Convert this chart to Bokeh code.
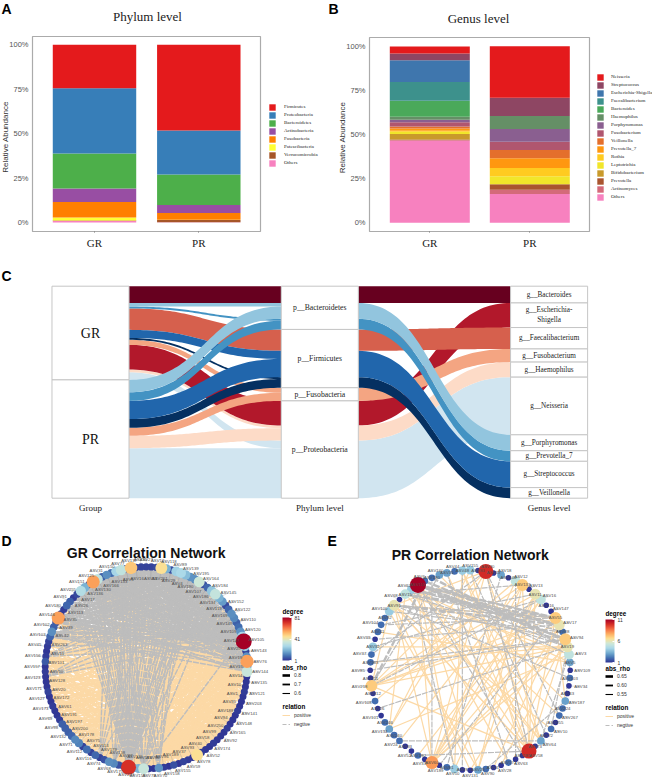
import numpy as np
from bokeh.embed import file_html
from bokeh.resources import INLINE
from bokeh.plotting import figure
from bokeh.layouts import column, row
from bokeh.core.properties import value
from bokeh.models import (ColumnDataSource, FixedTicker, NumeralTickFormatter, Label, Legend,
                          LegendItem, LinearColorMapper, ColorBar)
from bokeh.transform import transform

groups = ["GR", "PR"]
phylum_names = ["Firmicutes", "Proteobacteria", "Bacteroidetes", "Actinobacteria", "Fusobacteria",
                "Patescibacteria", "Verrucomicrobia", "Others"]
phylum_gr = [24.4, 36.8, 19.7, 7.5, 8.8, 1.7, 0.2, 0.9]
phylum_pr = [48.2, 24.8, 17.1, 4.6, 3.8, 0.05, 1.3, 0.15]
phylum_colors = ["#e41a1c", "#377eb8", "#4daf4a", "#984ea3", "#ff7f00", "#ffff33", "#a65628", "#f781bf"]

genus_names = ["Neisseria", "Streptococcus", "Escherichia-Shigella", "Faecalibacterium", "Bacteroides",
               "Haemophilus", "Porphyromonas", "Fusobacterium", "Veillonella", "Prevotella_7", "Rothia",
               "Leptotrichia", "Bifidobacterium", "Prevotella", "Actinomyces", "Others"]
genus_gr = [4.0, 3.8, 12.4, 10.6, 9.1, 1.7, 1.3, 2.5, 1.1, 1.3, 0.6, 1.3, 3.0, 0.4, 0.4, 46.5]
genus_pr = [29.1, 10.4, 0.0, 0.0, 0.0, 7.4, 7.2, 4.7, 4.7, 5.5, 4.7, 4.5, 0.1, 3.0, 2.5, 16.3]
genus_colors = ["#e41a1c", "#8e4663", "#3f76ad", "#3d918c", "#4aa95a", "#658f66", "#8a5f90", "#b0566f",
                "#e46f2c", "#ff9710", "#ffcb20", "#f1e62a", "#c99a2b", "#a9552f", "#d46a7a", "#f781bf"]

flow_genus = ["Bacteroides", "Porphyromonas", "Prevotella_7", "Faecalibacterium", "Streptococcus",
              "Veillonella", "Fusobacterium", "Escherichia-\nShigella", "Haemophilus", "Neisseria"]
flow_phylum = ["Bacteroidetes", "Bacteroidetes", "Bacteroidetes", "Firmicutes", "Firmicutes", "Firmicutes",
               "Fusobacteria", "Proteobacteria", "Proteobacteria", "Proteobacteria"]
flow_gr = [7.9, 1.7, 0.9, 10.1, 3.8, 0.9, 2.4, 11.6, 1.3, 3.6]
flow_pr = [0.0, 5.8, 4.1, 0.0, 8.6, 4.1, 3.8, 0.0, 5.8, 23.6]
flow_colors = ["#67001f", "#92c5de", "#4393c3", "#d6604d", "#2166ac", "#053061", "#f4a582", "#b2182b",
               "#fddbc7", "#d1e5f0"]
genus_axis_order = ["Bacteroides", "Escherichia-\nShigella", "Faecalibacterium", "Fusobacterium", "Haemophilus",
                    "Neisseria", "Porphyromonas", "Prevotella_7", "Streptococcus", "Veillonella"]
left_draw_order = ["Neisseria", "Haemophilus", "Escherichia-\nShigella", "Fusobacterium", "Faecalibacterium",
                   "Veillonella", "Streptococcus", "Prevotella_7", "Porphyromonas", "Bacteroides"]
right_draw_order = ["Neisseria", "Escherichia-\nShigella", "Haemophilus", "Fusobacterium", "Faecalibacterium",
                    "Veillonella", "Streptococcus", "Prevotella_7", "Porphyromonas", "Bacteroides"]

gr_degree = [3, 3, 4, 45, 20, 5, 26, 28, 22, 15, 14, 36, 5, 8, 24, 34, 20, 16, 4, 8, 14, 13, 7, 9, 15, 27, 81, 25, 3,
             14, 56, 15, 35, 1, 1, 1, 2, 1, 1, 1, 2, 1, 1, 1, 2, 1, 1, 1, 2, 1, 1, 2, 45, 1, 2, 3, 1, 5, 1, 2, 15, 1,
             1, 35, 20, 16, 72, 4, 5, 13, 14, 5, 3, 8, 3, 9, 3, 12, 13, 8, 7, 7, 7, 2, 1, 1, 2, 1, 1, 3, 1, 1, 1, 2, 1,
             6, 2, 1, 2, 3, 8, 14, 7, 4, 56, 2, 2, 8, 7, 2, 4, 30, 20, 5, 56, 33, 7, 14, 9, 27, 33, 5, 50, 3, 3]
gr_labels = ["ASV27", "ASV51", "ASV12", "ASV261", "ASV118", "ASV29", "ASV89", "ASV4", "ASV139", "ASV190", "ASV195",
             "ASV107", "ASV164", "ASV186", "ASV184", "ASV134", "ASV145", "ASV119", "ASV152", "ASV169", "ASV122",
             "ASV149", "ASV110", "ASV109", "ASV120", "ASV147", "ASV105", "ASV25", "ASV143", "ASV19", "ASV76", "ASV15",
             "ASV144", "ASV14", "ASV135", "ASV10", "ASV121", "ASV1", "ASV203", "ASV95", "ASV141", "ASV188", "ASV148",
             "ASV94", "ASV165", "ASV250", "ASV92", "ASV99", "ASV174", "ASV58", "ASV52", "ASV40", "ASV78", "ASV93",
             "ASV59", "ASV37", "ASV155", "ASV189", "ASV158", "ASV96", "ASV70", "ASV36", "ASV79", "ASV176", "ASV159",
             "ASV115", "ASV223", "ASV97", "ASV175", "ASV138", "ASV68", "ASV179", "ASV74", "ASV114", "ASV116",
             "ASV75", "ASV112", "ASV178", "ASV71", "ASV200", "ASV132", "ASV197", "ASV98", "ASV191", "ASV69", "ASV61",
             "ASV173", "ASV172", "ASV127", "ASV20", "ASV171", "ASV128", "ASV123", "ASV50", "ASV157", "ASV101",
             "ASV156", "ASV11", "ASV45", "ASV263", "ASV103", "ASV42", "ASV102", "ASV39", "ASV146", "ASV35", "ASV180",
             "ASV113", "ASV91", "ASV26", "ASV255", "ASV17", "ASV151", "ASV136", "ASV125", "ASV130", "ASV31", "ASV166",
             "ASV150", "ASV133", "ASV77", "ASV5", "ASV137", "ASV16", "ASV30"]
gr_pos = [
    (26, [58, 60, 62, 64, 67, 68, 70, 71, 72, 74, 75, 77, 78, 79, 81, 82, 83, 84, 85, 86, 87, 88, 89, 90, 91, 92, 93,
          94, 95, 96, 97, 98, 99, 100, 101, 103]),
    (30, [55, 57, 59, 61, 65, 67, 69, 71, 73, 76, 78, 80, 83, 85, 87, 89, 91, 93, 95, 97, 99, 102]),
    (66, [33, 34, 35, 36, 37, 38, 39, 40, 41, 42, 43, 44, 45, 46, 47, 48, 49, 50, 51, 30, 32, 27, 25, 24, 21, 84, 87,
          90, 93, 96, 99]),
    (52, [70, 73, 76, 79, 82, 85, 88, 91, 94, 97, 100, 103, 106]),
    (104, [33, 35, 37, 39, 41, 43, 45, 47, 49, 51, 53, 55, 57, 60, 63]),
    (114, [34, 36, 38, 40, 42, 44, 46, 48, 50, 54, 57, 60, 63, 65]),
    (122, [52, 55, 58, 61, 64, 68, 71, 74, 77, 80, 38, 42, 46]),
    (63, [33, 36, 39, 42, 45, 48, 85, 88, 92, 96, 100]),
    (32, [62, 65, 68, 73, 77, 81, 86, 90, 94, 98, 102, 107]),
    (7, [52, 56, 60, 63, 66, 70, 74, 79, 84, 89, 94]),
    (15, [53, 59, 63, 66, 71, 76, 82, 88, 92]),
    (120, [40, 45, 50, 55, 60, 65, 68, 72]),
    (33, [62, 66, 70, 74, 78, 82, 86, 90, 94, 98]),
    (36, [64, 68, 72, 76, 80, 84, 88, 92, 96, 100]),
    (39, [61, 65, 69, 73, 77, 81, 85, 89, 93, 97, 101]),
    (42, [63, 67, 71, 75, 79, 83, 87, 91, 95, 99]),
    (45, [62, 66, 70, 74, 78, 82, 86, 90, 94]),
    (48, [64, 68, 72, 76, 80, 84, 88, 92]),
    (50, [65, 69, 73, 77, 81, 85, 89, 93]),
    (28, [52, 56, 62, 69, 75, 80, 88, 94, 100]),
    (23, [50, 58, 64, 70, 76, 84, 90, 96]),
    (20, [47, 55, 60, 67, 73, 79, 85, 91, 99]),
    (18, [44, 53, 62, 72, 78, 83, 89, 95]),
    (100, [35, 40, 46, 52, 58, 64]),
    (96, [34, 38, 44, 49, 54, 60, 66]),
    (92, [37, 41, 47, 51, 56, 61]),
    (88, [35, 39, 43, 50, 55, 62]),
    (84, [37, 41, 46, 52, 58]),
]
gr_neg = [
    (26, [0, 1, 2, 3, 4, 5, 6, 7, 8, 9, 10, 105, 106, 107, 108, 109, 110, 111, 112, 113, 114, 115, 116, 117, 118, 119,
          120, 121, 122, 123, 124, 100, 101, 102, 103, 104, 98]),
    (66, [118, 119, 120, 121, 122, 123, 124, 0, 1, 2, 3, 4, 5, 6, 7, 8, 9, 10, 11, 12, 114, 116, 109, 111, 113, 115,
          117, 110, 112]),
    (30, [112, 114, 116, 118, 120, 122, 124, 1, 3, 5, 7, 100, 104, 108]),
    (114, [7, 11, 15, 19, 22, 25, 27, 29, 31, 32, 63]),
    (122, [11, 15, 25, 30, 63, 66, 69, 60]),
    (11, [63, 66, 69, 72, 104, 108, 111, 114, 100]),
    (104, [6, 7, 14, 20, 25, 27, 30, 32]),
    (15, [111, 104, 100, 66, 63]),
    (7, [100, 104, 108, 111, 115, 63, 66, 60]),
    (120, [15, 21, 25, 27, 32, 63, 66]),
    (25, [101, 104, 108, 111, 119, 63]),
    (32, [100, 104, 111, 120, 122]),
    (100, [6, 9, 12, 16, 19, 22, 25, 28, 31]),
    (103, [4, 8, 11, 14, 17, 20, 23, 27, 30]),
    (106, [3, 6, 10, 13, 16, 19, 22, 25, 29, 32]),
    (109, [2, 5, 9, 12, 15, 18, 21, 24, 28, 31]),
    (112, [1, 4, 8, 11, 14, 17, 20, 23, 27, 30]),
    (116, [2, 6, 10, 13, 17, 21, 24, 28, 31]),
    (118, [3, 7, 12, 16, 19, 22, 29, 32]),
    (96, [9, 13, 18, 22, 27]),
    (92, [12, 17, 21, 25]),
    (121, [6, 10, 14, 18, 23, 28, 30]),
    (124, [8, 13, 17, 22, 27]),
    (63, [111, 115, 119, 122, 2, 6, 9]),
    (60, [114, 118, 122, 1, 5, 8]),
    (69, [116, 121, 0, 4, 7, 11]),
    (72, [117, 120, 124, 3]),
]

pr_degree = [4, 1, 10, 1, 3, 1, 5, 7, 1, 6, 5, 1, 1, 7, 6, 2, 7, 6, 5, 3, 1, 2, 1, 1, 3, 2, 2, 1, 2, 1, 3, 1, 10, 1, 1,
             2, 1, 1, 2, 3, 1, 1, 4, 2, 1, 8, 1, 2, 1, 1, 2, 2, 3, 2, 1, 1, 2, 1, 7, 1, 1, 2, 2, 4, 1, 2, 2, 2, 4, 6, 1,
             5, 4, 11, 2, 2, 3, 3, 2, 4]
pr_labels = ["ASV155", "ASV83", "ASV30", "ASV33", "ASV18", "ASV140", "ASV12", "ASV133", "ASV13", "ASV11", "ASV16",
             "ASV116", "ASV147", "ASV55", "ASV17", "ASV88", "ASV94", "ASV19", "ASV3", "ASV5", "ASV109", "ASV103",
             "ASV34", "ASV43", "ASV187", "ASV224", "ASV267", "ASV255", "ASV10", "ASV72", "ASV64", "ASV73", "ASV58",
             "ASV185", "ASV63", "ASV172", "ASV28", "ASV47", "ASV90", "ASV29", "ASV131", "ASV8", "ASV50", "ASV81",
             "ASV189", "ASV60", "ASV33", "ASV192", "ASV52", "ASV93", "ASV24", "ASV240", "ASV134", "ASV246", "ASV101",
             "ASV26", "ASV108", "ASV212", "ASV218", "ASV211", "ASV85", "ASV163", "ASV37", "ASV32", "ASV39", "ASV41",
             "ASV104", "ASV92", "ASV100", "ASV91", "ASV68", "ASV15", "ASV62", "ASV113", "ASV6", "ASV180", "ASV160",
             "ASV35", "ASV44", "ASV48"]
pr_pos = [(32, 73), (32, 77), (32, 69), (32, 79), (32, 58), (32, 9), (32, 7), (32, 13), (32, 2), (32, 16), (2, 45),
          (2, 58), (2, 69), (2, 30), (2, 52), (7, 45), (7, 58), (7, 50), (7, 39), (13, 45), (13, 69), (13, 58),
          (13, 24), (73, 39), (73, 30), (73, 42), (73, 26), (73, 14), (73, 45), (69, 45), (69, 40), (69, 28), (69, 32),
          (58, 9), (58, 17), (58, 14), (58, 68), (45, 16), (45, 9), (45, 17), (45, 10), (9, 42), (9, 39), (14, 40),
          (14, 37), (16, 36), (17, 61), (17, 63), (71, 18), (71, 30), (72, 19), (72, 35), (0, 33), (0, 52), (6, 56),
          (6, 45), (10, 47), (18, 52), (19, 65), (24, 76), (30, 79), (39, 68), (42, 79), (52, 71)]
pr_neg = [(73, 16), (73, 17), (73, 13), (73, 14), (73, 18), (69, 13), (69, 16), (72, 15), (71, 14), (71, 17),
          (2, 32), (2, 26), (2, 62), (4, 43), (6, 34), (9, 66), (10, 63), (10, 58), (13, 44), (14, 64), (16, 61),
          (17, 55), (17, 28), (18, 30), (19, 24), (24, 38), (30, 50), (32, 47), (45, 75), (58, 76), (68, 15),
          (69, 21), (73, 33), (77, 35), (79, 41), (0, 29), (7, 71), (66, 13), (60, 16), (42, 72)]
pr_neg_thick = [(73, 13), (73, 16), (72, 14), (71, 13), (74, 16), (69, 14), (75, 17), (58, 74)]

rho_gr = [("0.8", 2.6), ("0.7", 1.8), ("0.6", 1.1)]
rho_pr = [("0.65", 2.6), ("0.60", 1.8), ("0.55", 1.1)]

SERIF = "Liberation Serif"
SANS = "Liberation Sans"
stops = ["#313695", "#4575b4", "#74add1", "#abd9e9", "#cfe8d8", "#fee090", "#fdae61", "#f46d43", "#d73027", "#a50026"]


def make_palette(n=256):
    rgb = np.array([[int(c[i:i + 2], 16) for i in (1, 3, 5)] for c in stops], float)
    t = np.linspace(0, len(stops) - 1, n)
    out = [np.interp(t, np.arange(len(stops)), rgb[:, k]) for k in range(3)]
    return ["#%02x%02x%02x" % (int(a), int(b), int(c)) for a, b, c in zip(*out)]


def page_label(p, fl, fb, px, py, text, size, font=SANS, style="normal", color="black", align="left",
               baseline="middle", angle=0):
    p.add_layout(Label(x=px - fl, y=fb - py, x_units="screen", y_units="screen", text=text, text_font=font,
                       text_font_size=f"{size}px", text_font_style=style, text_color=color, text_align=align,
                       text_baseline=baseline, angle=angle, angle_units="deg"))


def stacked(names, gr, pr, colors, title, title_xy, letter, letter_xy, fl, fr, ft, fb, ox, c0, unit,
            y0, y100, legend_x, legend_top, pitch, label_gap, ylab_x):
    w, h = 326, 260
    span = y0 - y100
    fx = lambda px: (px - c0) / unit
    fy = lambda py: (y0 - py) / span
    p = figure(width=w, height=h, output_backend="svg", toolbar_location=None, min_border=0,
               x_range=(fx(ox), fx(ox + w)), y_range=(fy(h), fy(0)), outline_line_color=None)
    p.grid.visible = False
    p.quad(left=[fx(fl)], right=[fx(fr)], top=[fy(ft)], bottom=[fy(fb)], fill_color="white",
           line_color="#ababab", line_width=1.2)
    src = {"x": [0, 1]}
    for n, a, b in zip(names, gr, pr):
        src[n] = [a / 100, b / 100]
    rs = p.vbar_stack(names[::-1], x="x", width=0.8, color=colors[::-1], source=ColumnDataSource(src), line_width=0)
    items = [LegendItem(label=value(n), renderers=[r]) for n, r in zip(names, rs[::-1])]
    leg = Legend(items=items, location=(legend_x - ox, h - legend_top - pitch * len(names)), padding=0, margin=0,
                 spacing=0, glyph_width=8, glyph_height=int(pitch), label_height=int(pitch), label_standoff=label_gap,
                 label_text_font=SERIF, label_text_font_size="5px", label_text_color="#222222",
                 background_fill_alpha=0, border_line_color=None)
    p.add_layout(leg)
    ax = p.yaxis[0]
    ax.fixed_location = fx(fl)
    ax.ticker = FixedTicker(ticks=[0, 0.25, 0.5, 0.75, 1])
    ax.formatter = NumeralTickFormatter(format="0%")
    ax.axis_line_color = None
    ax.major_tick_line_color = None
    ax.minor_tick_line_color = None
    ax.major_tick_out = 2
    ax.major_tick_in = 0
    ax.major_label_standoff = 2
    ax.major_label_text_font = SANS
    ax.major_label_text_font_size = "7.5px"
    ax.major_label_text_color = "#555555"
    xa = p.xaxis[0]
    xa.fixed_location = fy(fb)
    xa.ticker = FixedTicker(ticks=[0, 1])
    xa.major_label_overrides = {0: groups[0], 1: groups[1]}
    xa.axis_line_color = None
    xa.minor_tick_line_color = None
    xa.major_tick_line_color = "#777777"
    xa.major_tick_out = 1
    xa.major_tick_in = 0
    xa.major_label_standoff = 4
    xa.major_label_text_font = SERIF
    xa.major_label_text_font_size = "11px"
    xa.major_label_text_color = "#222222"
    txt = dict(text_baseline="middle", text_align="center")
    p.text([fx(title_xy[0])], [fy(title_xy[1])], text=[title], text_font=value(SERIF), text_font_size="13px",
           text_color="#222222", **txt)
    p.text([fx(ylab_x)], [fy((ft + fb) / 2 + 3)], text=["Relative Abundance"], text_font=value(SANS),
           text_font_size="8px", text_color="#333333", angle=np.pi / 2, **txt)
    p.text([fx(letter_xy[0])], [fy(letter_xy[1])], text=[letter], text_font=value(SANS), text_font_size="14px",
           text_font_style="bold", text_color="black", text_align="left", text_baseline="middle")
    return p


panel_a = stacked(phylum_names, phylum_gr, phylum_pr, phylum_colors, "Phylum level", (147, 16), "A", (1, 8),
                  32, 260, 36, 231, 0, 94, 104.3, 222, 44.3, 268, 102, 8.1, 8, 4.5)
panel_b = stacked(genus_names, genus_gr, genus_pr, genus_colors, "Genus level", (478, 18), "B", (328, 8),
                  369, 589, 37, 231, 326, 429.3, 100, 222.3, 46, 596, 70, 8.17, 7, 342)


# ---- panel C: alluvial ----
def sankey():
    w, h = 652, 270
    scale_y = 2.12          # page pixels for one percent
    bot_py = 497.7
    col_px = 229.3
    centre_px = 90.0
    xr = ((0 - centre_px) / col_px + 1, (w - centre_px) / col_px + 1)
    yr = ((bot_py - (260 + h)) / scale_y, (bot_py - 260) / scale_y)
    p = figure(width=w, height=h, output_backend="svg", toolbar_location=None, x_range=xr, y_range=yr,
               x_axis_type=None, y_axis_type=None, min_border=0, outline_line_color=None)
    p.grid.visible = False
    half = 0.168
    gr = np.array(flow_gr)
    pr = np.array(flow_pr)
    ind = {g: i for i, g in enumerate(flow_genus)}
    # stacks, from the top (100) downward
    left_gr, left_pr, mid_gr, mid_pr, right = {}, {}, {}, {}, {}
    c = 100.0
    for g in flow_genus:
        left_gr[g] = c
        c -= gr[ind[g]]
    group_split = c
    for g in flow_genus:
        left_pr[g] = c
        c -= pr[ind[g]]
    c = 100.0
    for g in flow_genus:
        mid_gr[g] = c
        c -= gr[ind[g]]
        mid_pr[g] = c
        c -= pr[ind[g]]
    c = 100.0
    for g in genus_axis_order:
        right[g] = c
        c -= gr[ind[g]] + pr[ind[g]]

    def ribbon(x0, x1, t0, t1, th, color):
        s = np.linspace(0, 1, 60)
        bez = lambda a, b: (1 - s) ** 3 * a + 3 * (1 - s) ** 2 * s * a + 3 * (1 - s) * s ** 2 * b + s ** 3 * b
        xs = (1 - s) ** 3 * x0 + 3 * (1 - s) ** 2 * s * (x0 + (x1 - x0) / 2) + 3 * (1 - s) * s ** 2 * (x0 + (x1 - x0) / 2) + s ** 3 * x1
        up = bez(t0, t1)
        p.patch(np.r_[xs, xs[::-1]], np.r_[up, (up - th)[::-1]], fill_color=color, line_color=None)

    for g in left_draw_order:
        i = ind[g]
        if gr[i] > 0:
            ribbon(1 + half, 2 - half, left_gr[g], mid_gr[g], gr[i], flow_colors[i])
    for g in left_draw_order:
        i = ind[g]
        if pr[i] > 0:
            ribbon(1 + half, 2 - half, left_pr[g], mid_pr[g], pr[i], flow_colors[i])
    for g in right_draw_order:
        i = ind[g]
        ribbon(2 + half, 3 - half, mid_gr[g], right[g], gr[i] + pr[i], flow_colors[i])

    rects = []
    rects.append((1, 100, group_split, "GR"))
    rects.append((1, group_split, 0, "PR"))
    c = 100.0
    for ph in dict.fromkeys(flow_phylum):
        tot = sum(gr[k] + pr[k] for k, f in enumerate(flow_phylum) if f == ph)
        rects.append((2, c, c - tot, "p__" + ph))
        c -= tot
    for g in genus_axis_order:
        tot = gr[ind[g]] + pr[ind[g]]
        rects.append((3, right[g], right[g] - tot, "g__" + g))
    p.quad(left=[r[0] - half for r in rects], right=[r[0] + half for r in rects], top=[r[1] for r in rects],
           bottom=[r[2] for r in rects], fill_color="white", line_color="#c6c6c6", line_width=1)
    big = [r for r in rects if r[0] == 1]
    phy = [r for r in rects if r[0] == 2]
    gen = [r for r in rects if r[0] == 3]
    p.text(x=[r[0] for r in big], y=[(r[1] + r[2]) / 2 for r in big], text=[r[3] for r in big], text_align="center",
           text_baseline="middle", text_font=value(SERIF), text_font_size="14px", text_color="#111111")
    p.text(x=[r[0] for r in phy], y=[(r[1] + r[2]) / 2 for r in phy], text=[r[3] for r in phy], text_align="center",
           text_baseline="middle", text_font=value(SERIF), text_font_size="7.7px", text_color="#222222")
    p.text(x=[r[0] for r in gen], y=[(r[1] + r[2]) / 2 for r in gen], text=[r[3] for r in gen], text_align="center",
           text_baseline="middle", text_font=value(SERIF), text_font_size="7.2px", text_color="#222222",
           text_line_height=1.25)
    p.text(x=[1, 2, 3], y=[-4.4] * 3, text=["Group", "Phylum level", "Genus level"], text_align="center",
           text_baseline="middle", text_font=value(SERIF), text_font_size="9px", text_color="#222222")
    page_label(p, 0, 530, 1, 275, "C", 14, style="bold")
    return p


panel_c = sankey()


def network(degree, labels, pos_pairs, neg_pairs, thick_pairs, title, letter, letter_xy, ox, cx, cy, r, leg_x, cb_top,
            ticks, rho, size_min, size_scale, title_y, rho_y, rel_y, edge_w, outer, inner):
    w, h = 326, 247
    oy = 530
    p = figure(width=w, height=h, output_backend="svg", toolbar_location=None, x_axis_type=None, y_axis_type=None,
               x_range=((ox - cx) / r, (ox + w - cx) / r), y_range=((cy - (oy + h)) / r, (cy - oy) / r), min_border=0,
               outline_line_color=None)
    p.grid.visible = False
    n = len(degree)
    ang = 2 * np.pi * np.arange(n) / n
    xs, ys = np.sin(ang), np.cos(ang)

    def seg(pairs, **kw):
        a = [q[0] for q in pairs]
        b = [q[1] for q in pairs]
        return p.segment(xs[a], ys[a], xs[b], ys[b], **kw)

    seg(pos_pairs, line_color="#fcd9a6", line_width=edge_w)
    seg(neg_pairs, line_color="#bdbdbd", line_width=edge_w, line_dash="6 1")
    if thick_pairs:
        seg(thick_pairs, line_color="#bdbdbd", line_width=2.4, line_dash="7 2")

    # label rings and leader lines
    alt = np.arange(n) % 2 == 0
    lx = np.where(alt, xs * outer[0], xs * inner)
    ly = np.where(alt, ys * outer[1], ys * inner)
    p.segment(xs, ys, lx, ly, line_color="#8c8c8c", line_width=0.3)

    mapper = LinearColorMapper(palette=make_palette(), low=min(degree), high=max(degree))
    deg = np.array(degree, float)
    order = np.argsort(deg, kind="stable")
    src = ColumnDataSource(dict(x=xs[order], y=ys[order], d=deg[order],
                                s=size_min + (deg[order] - 1) * size_scale))
    p.scatter("x", "y", source=src, size="s", fill_color=transform("d", mapper), line_color=None)
    p.text(lx, ly, text=labels, text_align="center", text_baseline="middle", text_font=value(SANS),
           text_font_size="4.3px", text_color="#4d4d4d")

    cb = ColorBar(color_mapper=mapper, width=9, height=43, location=(leg_x - ox, oy + h - cb_top - 43),
                  ticker=FixedTicker(ticks=ticks), padding=0, margin=0, background_fill_alpha=0,
                  border_line_color=None, major_label_text_font=SANS, major_label_text_font_size="5px",
                  major_label_text_color="#333333", major_tick_line_color="white", major_tick_in=2, major_tick_out=0,
                  label_standoff=3, minor_tick_line_color=None, bar_line_color=None)
    p.add_layout(cb)
    page_label(p, ox, oy + h, leg_x, cb_top - 6, "degree", 6.3, style="bold")

    rho_items = []
    for lab, lw in rho:
        rr = p.line([0, 0], [9, 9], line_color="black", line_width=lw)
        rho_items.append(LegendItem(label=value(lab), renderers=[rr]))
    pr_l = p.line([0, 0], [9, 9], line_color="#fcd9a6", line_width=1)
    ne_l = p.line([0, 0], [9, 9], line_color="#bdbdbd", line_width=1, line_dash="4 2")
    rel_items = [LegendItem(label=value("positive"), renderers=[pr_l]),
                 LegendItem(label=value("negtive"), renderers=[ne_l])]
    for items, ttop in ((rho_items, rho_y), (rel_items, rel_y)):
        height = len(items) * 8
        leg = Legend(items=items, location=(leg_x - ox, oy + h - ttop - height), padding=0, margin=0,
                     spacing=1, glyph_width=8, glyph_height=8, label_height=8, label_standoff=4,
                     label_text_font=SANS, label_text_font_size="5px", label_text_color="#333333",
                     background_fill_alpha=0, border_line_color=None)
        p.add_layout(leg)
    page_label(p, ox, oy + h, leg_x, rho_y - 6, "abs_rho", 6.3, style="bold")
    page_label(p, ox, oy + h, leg_x, rel_y - 6, "relation", 6.3, style="bold")

    page_label(p, ox, oy + h, cx, title_y, title, 14, style="bold", color="#111111", align="center")
    page_label(p, ox, oy + h, letter_xy[0], letter_xy[1], letter, 14, style="bold")
    return p


def expand(groups_of_edges):
    return [(a, b) for a, targets in groups_of_edges for b in targets]


panel_d = network(gr_degree, gr_labels, expand(gr_pos), expand(gr_neg), [], "GR Correlation Network", "D", (1, 540),
                  0, 145.7, 667.3, 101, 282, 617, [1, 41, 81], rho_gr, 7.0, 9.0 / 80, 552.7, 673, 712, 1.4,
                  (1.13, 1.07), 0.89)
panel_e = network(pr_degree, pr_labels, pr_pos, pr_neg, pr_neg_thick, "PR Correlation Network", "E", (327, 540),
                  326, 469.7, 669.7, 100, 605, 619, [1, 6, 11], rho_pr, 5.6, 1.05, 554.3, 674, 713, 1.2,
                  (1.12, 1.05), 1.0)

layout = column(row(panel_a, panel_b, spacing=0), panel_c, row(panel_d, panel_e, spacing=0), spacing=0)
open("out.html", "w").write(file_html(layout, INLINE))
